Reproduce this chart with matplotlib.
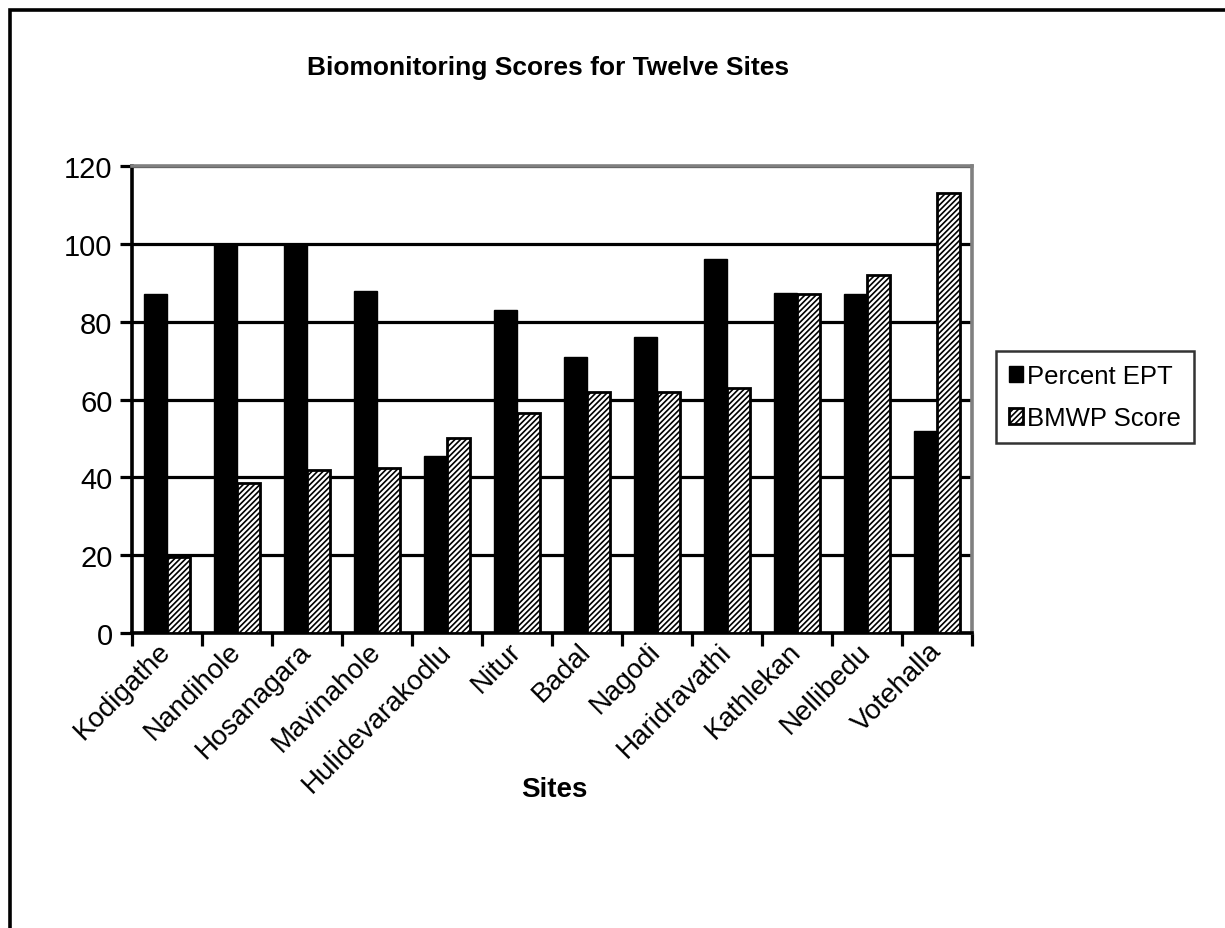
import matplotlib
matplotlib.use("Agg")
import matplotlib.pyplot as plt
import numpy as np
from matplotlib.patches import Rectangle

sites = ["Kodigathe", "Nandihole", "Hosanagara", "Mavinahole", "Hulidevarakodlu",
         "Nitur", "Badal", "Nagodi", "Haridravathi", "Kathlekan", "Nellibedu", "Votehalla"]
percent_ept = [87, 100, 100, 88, 45.5, 83, 71, 76, 96, 87.5, 87, 52]
bmwp_score = [19.5, 38.5, 42, 42.5, 50, 56.5, 62, 62, 63, 87, 92, 113]
y_ticks = [0, 20, 40, 60, 80, 100, 120]

plt.rcParams["font.family"] = ["Liberation Sans", "DejaVu Sans"]
plt.rcParams["hatch.linewidth"] = 1.2
plt.rcParams["hatch.color"] = "black"

fig = plt.figure(figsize=(12.25, 9.29), dpi=100)
ax = fig.add_axes([0.1078, 0.3175, 0.6857, 0.5027])

# outer chart border (top and left visible)
fig.patches.append(Rectangle((9.5 / 1225, -0.05), 1.2, 1 - 10.5 / 929 + 0.05,
                             transform=fig.transFigure, fill=False,
                             edgecolor="black", linewidth=2.6, zorder=0))

x = np.arange(len(sites))
w = 0.33
ax.bar(x - w / 2, percent_ept, width=w, color="black", edgecolor="black",
       linewidth=1.0, label="Percent EPT", zorder=3)
ax.bar(x + w / 2, bmwp_score, width=w, color="white", edgecolor="black",
       hatch="//////", linewidth=2.0, label="BMWP Score", zorder=3)

ax.set_xlim(-0.5, len(sites) - 0.5)
ax.set_ylim(0, 120)
ax.set_yticks(y_ticks)
ax.set_yticklabels([str(v) for v in y_ticks], fontsize=21)
ax.yaxis.grid(True, color="black", linewidth=2.3, zorder=1)
ax.set_axisbelow(True)

ax.set_xticks(np.arange(len(sites) + 1) - 0.5, minor=False)
ax.set_xticklabels([])
ax.set_xticks(x, minor=True)
ax.set_xticklabels(sites, minor=True, rotation=45, ha="right", va="center",
                   rotation_mode="anchor", fontsize=20)
ax.tick_params(axis="x", which="major", length=9, width=2.3, direction="out")
ax.tick_params(axis="x", which="minor", length=0, pad=10)
ax.tick_params(axis="y", length=9, width=2.3, direction="out", pad=5)

for side in ("left", "bottom"):
    ax.spines[side].set_color("black")
    ax.spines[side].set_linewidth(2.6)
for side in ("top", "right"):
    ax.spines[side].set_color("#808080")
    ax.spines[side].set_linewidth(2.6)

fig.text(548 / 1225, 1 - 68 / 929, "Biomonitoring Scores for Twelve Sites",
         ha="center", va="center", fontsize=19, fontweight="bold")
fig.text(554 / 1225, 1 - 790 / 929, "Sites", ha="center", va="center",
         fontsize=20, fontweight="bold")

leg = ax.legend(loc="upper left", bbox_to_anchor=(996 / 1225, 1 - 352 / 929),
                bbox_transform=fig.transFigure, fontsize=18.5, frameon=True,
                fancybox=False, edgecolor="black", handlelength=0.55,
                handleheight=0.6, handletextpad=0.15, borderpad=0.5,
                labelspacing=0.7, borderaxespad=0)
leg.get_frame().set_linewidth(1.8)

fig.savefig("out.png", dpi=100)
